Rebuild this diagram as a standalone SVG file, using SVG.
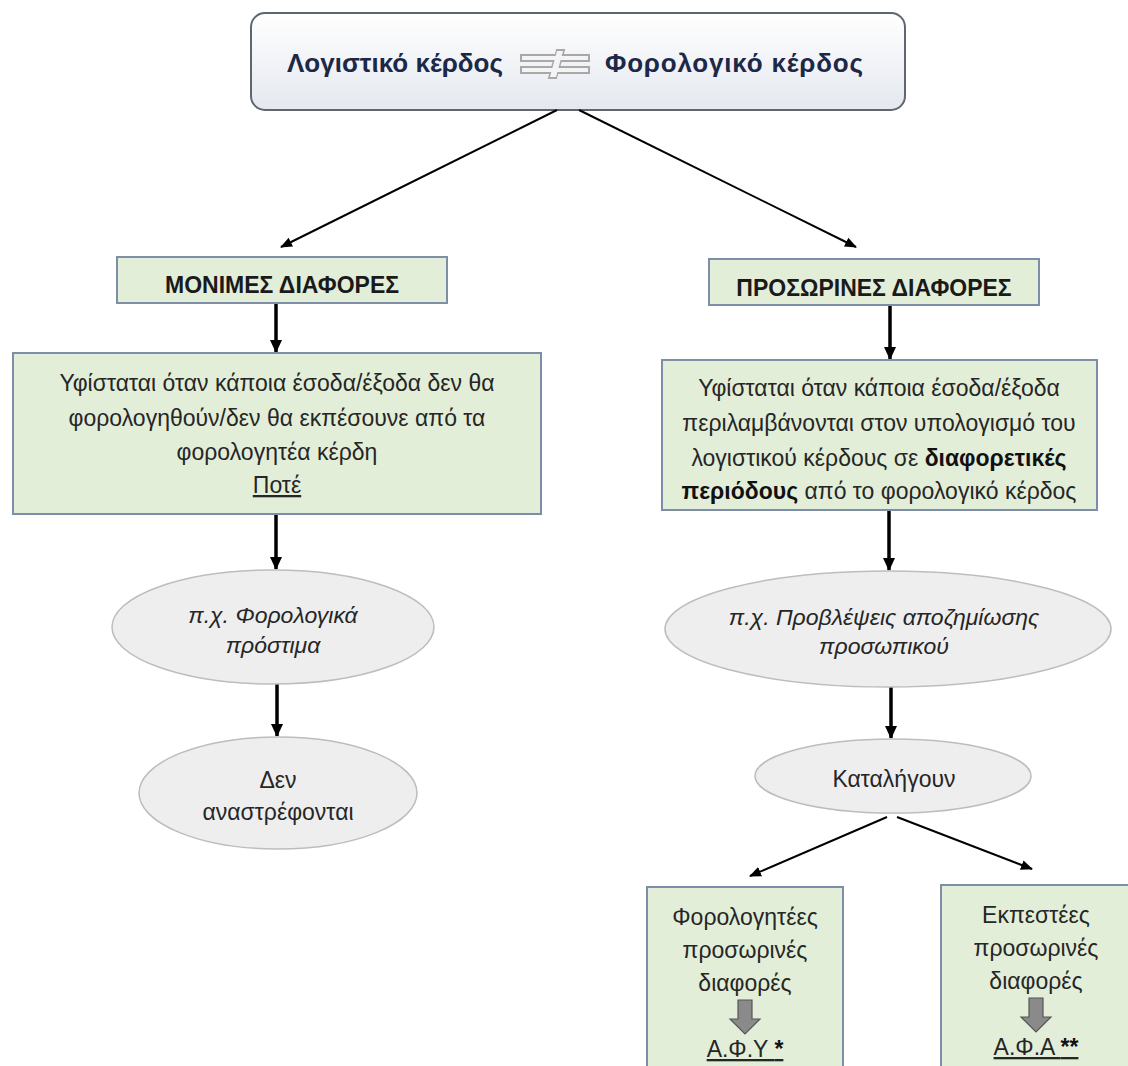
<svg xmlns="http://www.w3.org/2000/svg" width="1128" height="1066" viewBox="0 0 1128 1066">
<defs>
<linearGradient id="topg" x1="0" y1="0" x2="0" y2="1">
<stop offset="0" stop-color="#ffffff"/>
<stop offset="1" stop-color="#e4e8ef"/>
</linearGradient>
<marker id="ah" markerUnits="userSpaceOnUse" markerWidth="14" markerHeight="12" refX="12" refY="6" orient="auto">
<path d="M0,0 L13,6 L0,12 Z" fill="#000"/>
</marker>
<marker id="ahs" markerUnits="userSpaceOnUse" markerWidth="14" markerHeight="12" refX="11" refY="6" orient="auto">
<path d="M0,1 L12,6 L0,11 Z" fill="#000"/>
</marker>
</defs>
<style>
text{font-family:"Liberation Sans","Noto Sans",sans-serif;fill:#262626;text-anchor:middle}
.hdr{font-size:26px;font-weight:bold;fill:#1c2848;text-anchor:start}
.box{fill:#e3eed9;stroke:#7d8ea6;stroke-width:2}
.ell{fill:#eeeeee;stroke:#bdbdbd;stroke-width:1.5}
.title{font-size:23px;font-weight:bold;fill:#1a1a1a}
.body{font-size:23px}
.it{font-size:23px;font-style:italic}
.b{font-weight:bold;fill:#111}
.u{text-decoration:underline}
.thick{stroke:#000;stroke-width:3.5;fill:none}
.thin{stroke:#000;stroke-width:2;fill:none}
.garrow{fill:#8a8a8a;stroke:#555;stroke-width:1.2}
</style>
<g id="top">
<rect x="251" y="13" width="654" height="97" rx="14" fill="url(#topg)" stroke="#5f6670" stroke-width="2"/>
<text class="hdr" x="287" y="72" textLength="216" lengthAdjust="spacing">Λογιστικό κέρδος</text>
<text class="hdr" x="605" y="72" textLength="258" lengthAdjust="spacing">Φορολογικό κέρδος</text>
<g stroke="#a8a8a8" stroke-width="2" fill="#f4f4f4">
<polygon points="549,78 556,78 564,50 557,50"/>
<rect x="521" y="55" width="68" height="6"/>
<rect x="521" y="67" width="68" height="6"/>
</g>
<g fill="#f4f4f4">
<polygon points="550,77 556,77 563,51 557,51"/>
<rect x="522" y="56" width="66" height="4"/>
<rect x="522" y="68" width="66" height="4"/>
</g>
</g>
<g id="connectors">
<line class="thin" x1="557" y1="110" x2="281" y2="247" marker-end="url(#ahs)"/>
<line class="thin" x1="579" y1="110" x2="856" y2="247" marker-end="url(#ahs)"/>
<line class="thick" x1="276" y1="303" x2="276" y2="352" marker-end="url(#ah)"/>
<line class="thick" x1="890" y1="305" x2="890" y2="359" marker-end="url(#ah)"/>
<line class="thick" x1="276" y1="514" x2="276" y2="569" marker-end="url(#ah)"/>
<line class="thick" x1="889" y1="510" x2="889" y2="570" marker-end="url(#ah)"/>
<line class="thick" x1="277" y1="684" x2="277" y2="736" marker-end="url(#ah)"/>
<line class="thick" x1="891" y1="687" x2="891" y2="738" marker-end="url(#ah)"/>
<line class="thin" x1="887" y1="817" x2="750" y2="876" marker-end="url(#ahs)"/>
<line class="thin" x1="897" y1="817" x2="1032" y2="869" marker-end="url(#ahs)"/>
</g>
<g id="monimes">
<rect class="box" x="117" y="257" width="330" height="46"/>
<text class="title" x="282" y="293">ΜΟΝΙΜΕΣ ΔΙΑΦΟΡΕΣ</text>
</g>
<g id="prosorines">
<rect class="box" x="709" y="259" width="330" height="46"/>
<text class="title" x="874" y="296">ΠΡΟΣΩΡΙΝΕΣ ΔΙΑΦΟΡΕΣ</text>
</g>
<g id="def-monimes">
<rect class="box" x="13" y="353" width="528" height="161"/>
<text class="body" x="277" y="391">Υφίσταται όταν κάποια έσοδα/έξοδα δεν θα</text>
<text class="body" x="277" y="426">φορολογηθούν/δεν θα εκπέσουνε από τα</text>
<text class="body" x="277" y="460">φορολογητέα κέρδη</text>
<text class="body u" x="277" y="493">Ποτέ</text>
</g>
<g id="def-prosorines">
<rect class="box" x="662" y="360" width="435" height="150"/>
<text class="body" x="879" y="396">Υφίσταται όταν κάποια έσοδα/έξοδα</text>
<text class="body" x="879" y="431">περιλαμβάνονται στον υπολογισμό του</text>
<text class="body" x="879" y="466">λογιστικού κέρδους σε <tspan class="b">διαφορετικές</tspan></text>
<text class="body" x="879" y="499"><tspan class="b">περιόδους</tspan> από το φορολογικό κέρδος</text>
</g>
<g id="ex-monimes">
<ellipse class="ell" cx="273" cy="627" rx="161" ry="57"/>
<text class="it" x="273" y="623">π.χ. Φορολογικά</text>
<text class="it" x="273" y="653">πρόστιμα</text>
</g>
<g id="den">
<ellipse class="ell" cx="278" cy="793" rx="139" ry="56"/>
<text class="body" x="278" y="788">Δεν</text>
<text class="body" x="278" y="820">αναστρέφονται</text>
</g>
<g id="ex-prosorines">
<ellipse class="ell" cx="888" cy="629" rx="223" ry="58"/>
<text class="it" x="884" y="625">π.χ. Προβλέψεις αποζημίωσης</text>
<text class="it" x="884" y="654">προσωπικού</text>
</g>
<g id="kataligoun">
<ellipse class="ell" cx="893" cy="776" rx="138" ry="37"/>
<text class="body" x="894" y="787">Καταλήγουν</text>
</g>
<g id="foro">
<rect class="box" x="647" y="887" width="196" height="185"/>
<text class="body" x="745" y="925">Φορολογητέες</text>
<text class="body" x="745" y="958">προσωρινές</text>
<text class="body" x="745" y="991">διαφορές</text>
<path class="garrow" d="M738,1000 H752 V1019 H760 L745,1034 L730,1019 H738 Z"/>
<text class="body u" x="745" y="1057">Α.Φ.Υ <tspan class="b">*</tspan></text>
</g>
<g id="ekp">
<rect class="box" x="941" y="885" width="200" height="185"/>
<text class="body" x="1036" y="923">Εκπεστέες</text>
<text class="body" x="1036" y="956">προσωρινές</text>
<text class="body" x="1036" y="989">διαφορές</text>
<path class="garrow" d="M1029,998 H1043 V1017 H1051 L1036,1032 L1021,1017 H1029 Z"/>
<text class="body u" x="1036" y="1055">Α.Φ.Α <tspan class="b">**</tspan></text>
</g>
</svg>
